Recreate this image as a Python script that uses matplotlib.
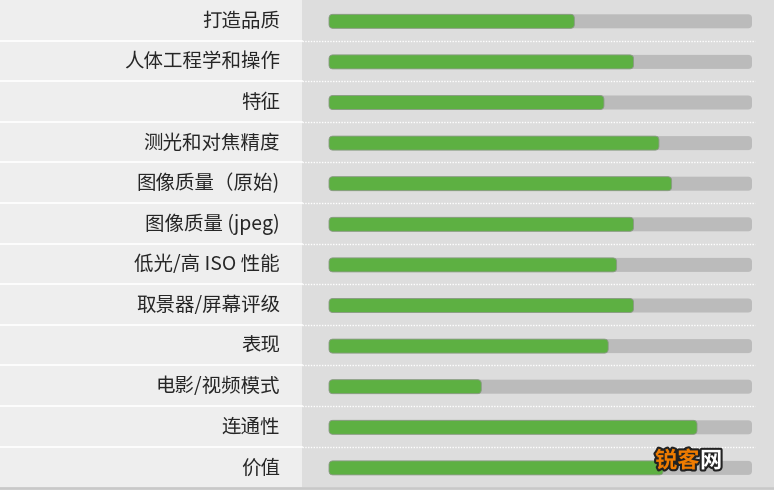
import matplotlib
matplotlib.use("Agg")
import matplotlib.pyplot as plt
from matplotlib.patches import FancyBboxPatch, Rectangle
import matplotlib.patheffects as pe

plt.rcParams['font.family'] = ['Noto Sans CJK SC', 'DejaVu Sans']

categories = ["打造品质", "人体工程学和操作", "特征", "测光和对焦精度", "图像质量（原始)",
              "图像质量 (jpeg)", "低光/高 ISO 性能", "取景器/屏幕评级", "表现",
              "电影/视频模式", "连通性", "价值"]
scores = [58, 72, 65, 78, 81, 72, 68, 72, 66, 36, 87, 79]
max_score = 100

W, H = 774, 491
fig = plt.figure(figsize=(W / 100, H / 100), dpi=100)
ax = fig.add_axes([0, 0, 1, 1])
ax.set_xlim(0, W)
ax.set_ylim(H, 0)
ax.axis('off')

row_h = 40.6
split_x = 302
n = len(categories)
total_h = row_h * n

# backgrounds
ax.add_patch(Rectangle((0, 0), W, H, facecolor='white', edgecolor='none', zorder=0))
ax.add_patch(Rectangle((0, 0), split_x, total_h, facecolor='#eeeeee', edgecolor='none', zorder=1))
ax.add_patch(Rectangle((split_x, 0), W - split_x, total_h, facecolor='#dddddd', edgecolor='none', zorder=1))
ax.plot([0, W], [total_h + 1, total_h + 1], color='#c8c8c8', lw=2, zorder=2)

track_x0, track_x1 = 329, 752
track_w = track_x1 - track_x0
bar_h = 14

for i, (cat, s) in enumerate(zip(categories, scores)):
    top = i * row_h
    cy = top + row_h / 2 + 1
    if i < n - 1:
        yb = top + row_h
        ax.plot([0, split_x], [yb, yb], color='white', lw=1.2, zorder=3)
        ax.plot([split_x, 755], [yb, yb], color='white', lw=1.0, ls=(0, (1, 1)), zorder=3)
    ax.text(280, cy, cat, ha='right', va='center', fontsize=14, color='#262626', zorder=4)
    # track
    ax.add_patch(FancyBboxPatch((track_x0, cy - bar_h / 2), track_w, bar_h,
                                boxstyle="round,pad=0,rounding_size=4",
                                facecolor='#bbbbbb', edgecolor='none', zorder=4))
    fill_w = s / max_score * track_w
    ax.add_patch(FancyBboxPatch((track_x0, cy - bar_h / 2), fill_w, bar_h,
                                boxstyle="round,pad=0,rounding_size=4",
                                facecolor='#5db042', edgecolor='#8a9a84', linewidth=0.6, zorder=5))

# watermark
stroke = [pe.withStroke(linewidth=3, foreground='#222222')]
ax.text(655, 461, "锐客", ha='left', va='center', fontsize=16, fontweight='bold',
        color='#f07c00', zorder=6, path_effects=stroke)
ax.text(700, 461, "网", ha='left', va='center', fontsize=16, fontweight='bold',
        color='white', zorder=6, path_effects=stroke)

fig.savefig("out.png", dpi=100)
